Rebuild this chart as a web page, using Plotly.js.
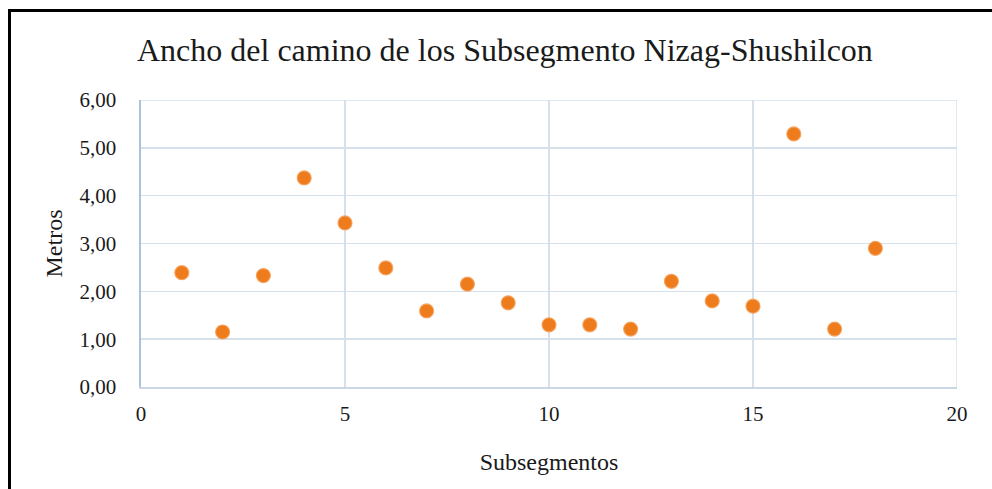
<!DOCTYPE html>
<html>
<head>
<meta charset="utf-8">
<script src="https://cdn.plot.ly/plotly-3.0.1.min.js"></script>
<style>
  html, body { margin: 0; padding: 0; background: #fff; }
  #wrap { position: relative; width: 992px; height: 489px; overflow: hidden; }
  #chart { position: absolute; left: 0; top: 0; width: 992px; height: 489px; }
  #frame { position: absolute; left: 8px; top: 9px; width: 1000px; height: 500px;
           border-left: 3px solid #000; border-top: 3px solid #000; pointer-events: none; }
</style>
</head>
<body>
<div id="wrap">
  <div id="chart"></div>
  <div id="frame"></div>
</div>
<script>
const subsegmentos = [1, 2, 3, 4, 5, 6, 7, 8, 9, 10, 11, 12, 13, 14, 15, 16, 17, 18];
const metros = [2.39, 1.15, 2.33, 4.37, 3.43, 2.49, 1.59, 2.15, 1.76, 1.30, 1.30, 1.21, 2.21, 1.80, 1.69, 5.29, 1.21, 2.90];
const xTicks = [0, 5, 10, 15, 20];
const yTicks = [0, 1, 2, 3, 4, 5, 6];
const yTickText = ['0,00', '1,00', '2,00', '3,00', '4,00', '5,00', '6,00'];

const serif = 'Liberation Serif, Times New Roman, serif';
const textColor = '#1a1a1a';

const trace = {
  x: subsegmentos,
  y: metros,
  type: 'scatter',
  mode: 'markers',
  marker: {
    size: 14,
    color: '#EF7C1C',
    line: { width: 1.2, color: 'rgba(245,160,90,0.85)' }
  },
  hoverinfo: 'x+y'
};

const layout = {
  width: 992,
  height: 489,
  margin: { l: 141, r: 35, t: 100, b: 102 },
  paper_bgcolor: '#ffffff',
  plot_bgcolor: '#ffffff',
  showlegend: false,
  title: {
    text: 'Ancho del camino de los Subsegmento Nizag-Shushilcon',
    font: { family: serif, size: 32, color: textColor },
    x: 0.509, xanchor: 'center',
    y: 0.899, yanchor: 'middle'
  },
  xaxis: {
    range: [0, 20],
    tickvals: xTicks,
    ticktext: xTicks.map(String),
    showgrid: true,
    gridcolor: '#D6E0EB',
    gridwidth: 1.5,
    zeroline: false,
    showline: true,
    linecolor: '#C9D7E6',
    linewidth: 2,
    ticks: '',
    ticklabelstandoff: 7,
    tickfont: { family: serif, size: 21, color: textColor },
    title: {
      text: 'Subsegmentos',
      font: { family: serif, size: 24, color: textColor },
      standoff: 28
    }
  },
  yaxis: {
    range: [0, 6],
    tickvals: yTicks,
    ticktext: yTickText,
    showgrid: true,
    gridcolor: '#D6E0EB',
    gridwidth: 1.5,
    zeroline: false,
    showline: true,
    linecolor: '#A9C3DC',
    linewidth: 2.5,
    ticks: '',
    ticklabelstandoff: 18,
    tickfont: { family: serif, size: 21, color: textColor },
    title: {
      text: 'Metros',
      font: { family: serif, size: 24, color: textColor },
      standoff: 10
    }
  },
  shapes: [
    { type: 'line', xref: 'x', yref: 'y', x0: 20, x1: 20, y0: 0, y1: 6,
      line: { color: '#D6E0EB', width: 1.5 } },
    { type: 'line', xref: 'x', yref: 'y', x0: 0, x1: 20, y0: 6, y1: 6,
      line: { color: '#D6E0EB', width: 1.5 } }
  ]
};

Plotly.newPlot('chart', [trace], layout, { displayModeBar: false, staticPlot: true });
</script>
</body>
</html>
